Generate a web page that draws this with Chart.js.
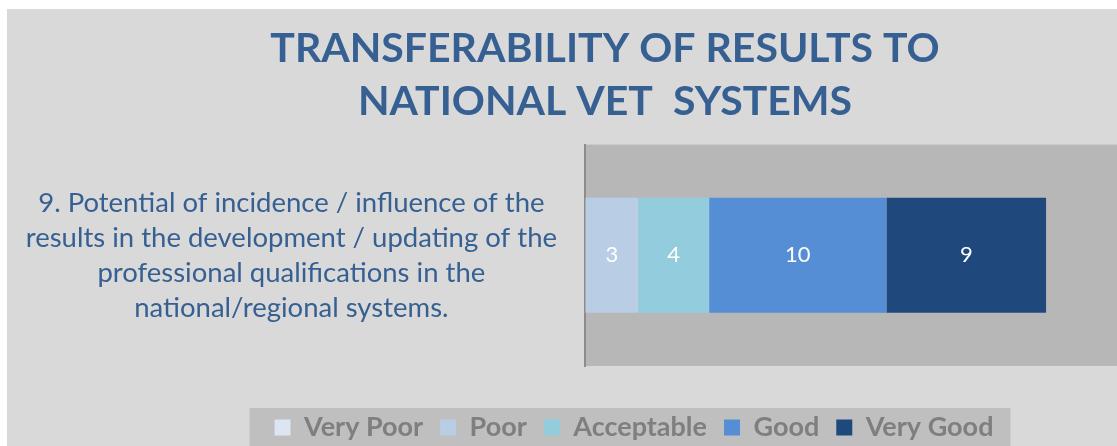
<!DOCTYPE html>
<html><head><meta charset="utf-8">
<script src="https://cdn.jsdelivr.net/npm/chart.js@4"></script>
<style>
html,body{margin:0;padding:0;background:#fff;width:1117px;height:446px;overflow:hidden;position:relative}
#wrap{position:absolute;left:7px;top:9px;width:1110px;height:442px;background:#d9d9d9}
</style></head><body><div id="wrap"><canvas id="c"></canvas></div>
<script>
const categories = [["9. Potential of incidence / influence of the","results in the development / updating of the","professional qualifications in the","national/regional systems."]];
const seriesNames = ["Very Poor","Poor","Acceptable","Good","Very Good"];
const veryPoor = [0];
const poor = [3];
const acceptable = [4];
const good = [10];
const veryGood = [9];
const axisMax = 30;
const titleLines = ["TRANSFERABILITY OF RESULTS TO","NATIONAL VET  SYSTEMS"];
const colors = ['#dce6f2','#b9cde5','#93cddd','#558ed5','#1f497d'];
const seriesValues = [veryPoor, poor, acceptable, good, veryGood];

const shiftPlugin = {
  id:'shift',
  afterLayout(chart){
    const t = chart.titleBlock;
    if (t){ t.left += 43; t.right += 43; }
    const lg = chart.legend;
    if (lg){ lg.left += 72; lg.right += 72; }
  }
};
const bgPlugin = {
  id:'bg',
  beforeDraw(chart){
    const {ctx, chartArea:a} = chart;
    ctx.save();
    ctx.fillStyle = '#b7b7b7';
    ctx.fillRect(a.left, a.top, a.right - a.left, a.bottom - a.top);
    const lg = chart.legend;
    if (lg && lg.legendHitBoxes && lg.legendHitBoxes.length){
      let l = Infinity, r = -Infinity;
      lg.legendHitBoxes.forEach(h=>{ l = Math.min(l, h.left); r = Math.max(r, h.left + h.width); });
      ctx.fillStyle = '#bfbfbf';
      ctx.fillRect(l - 25, lg.top + 11, (r - l) + 42, chart.height);
    }
    ctx.restore();
  }
};
const labelPlugin = {
  id:'vals',
  afterDatasetsDraw(chart){
    const ctx = chart.ctx;
    ctx.save();
    ctx.fillStyle = '#ffffff';
    ctx.font = '22px Lato';
    ctx.textAlign = 'center';
    ctx.textBaseline = 'middle';
    chart.data.datasets.forEach((ds, i)=>{
      const meta = chart.getDatasetMeta(i);
      meta.data.forEach((el, j)=>{
        const v = ds.data[j];
        if (!v) return;
        ctx.fillText(String(v), (el.x + el.base)/2, el.y);
      });
    });
    ctx.restore();
  }
};

new Chart(document.getElementById('c'), {
  type:'bar',
  data:{
    labels: categories,
    datasets: seriesNames.map((n,i)=>({
      label:n, data:seriesValues[i], backgroundColor:colors[i], borderWidth:0,
      categoryPercentage:1, barPercentage:0.52
    }))
  },
  options:{
    indexAxis:'y',
    responsive:true, maintainAspectRatio:false, animation:false,
    layout:{padding:{left:0,right:0,top:0,bottom:0}},
    scales:{
      x:{stacked:true, min:0, max:axisMax, display:true,
         ticks:{display:false},
         grid:{display:true, drawOnChartArea:false, drawTicks:true, tickLength:31, color:'rgba(0,0,0,0)'},
         border:{display:false}},
      y:{stacked:true,
         ticks:{color:'#376092', font:{family:'Lato', size:27.5, lineHeight:1.27}, crossAlign:'center', padding:28},
         grid:{display:false, drawTicks:false},
         border:{display:true, color:'#8c8c8c', width:2},
         afterFit(s){ s.width = 578; s.paddingTop = 0; s.paddingBottom = 0; }}
    },
    plugins:{
      title:{display:true, text:titleLines, color:'#376092',
             font:{family:'Lato', size:41, weight:'bold', lineHeight:1.3},
             padding:{top:13,bottom:16}},
      legend:{position:'bottom',
              labels:{boxWidth:16, boxHeight:16, color:'#7f7f7f', padding:17,
                      font:{family:'Lato', size:27, weight:'bold', lineHeight:1}}},
      tooltip:{enabled:false}
    }
  },
  plugins:[shiftPlugin, bgPlugin, labelPlugin]
});
</script></body></html>
